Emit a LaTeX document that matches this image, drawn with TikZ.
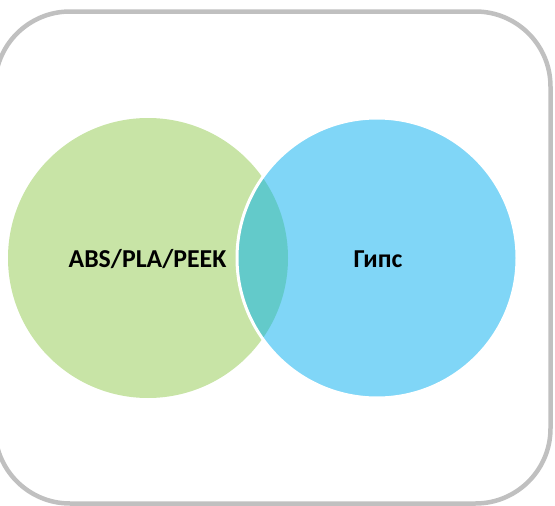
\documentclass[tikz,border=0pt]{standalone}
\usepackage{fontspec}
\setmainfont{Carlito}
\definecolor{framegray}{RGB}{192,192,192}
\definecolor{vgreen}{RGB}{200,228,166}
\definecolor{vblue}{RGB}{128,214,247}
\definecolor{vteal}{RGB}{99,202,202}
\begin{document}
\begin{tikzpicture}[x=1pt,y=-1pt,
  lbl/.style={font=\bfseries\fontsize{25.8}{30}\selectfont, text=black, inner sep=0pt}]
\useasboundingbox (0,0) rectangle (555,506);
\draw[framegray, line width=4.5pt, rounded corners=75pt] (-5,11.5) rectangle (550.5,503.5);
\fill[vgreen] (148,258) circle (140);
\fill[vblue] (377,258) circle (140);
\begin{scope}
  \clip (148,258) circle (140);
  \fill[vteal] (377,258) circle (140);
\end{scope}
\draw[white, line width=3pt] (377,258) circle (140);
\node[lbl] (a) at (147.5,259) {ABS/PLA/PEEK};
\node[lbl] (b) at (378,259) {Гипс};
\end{tikzpicture}
\end{document}
